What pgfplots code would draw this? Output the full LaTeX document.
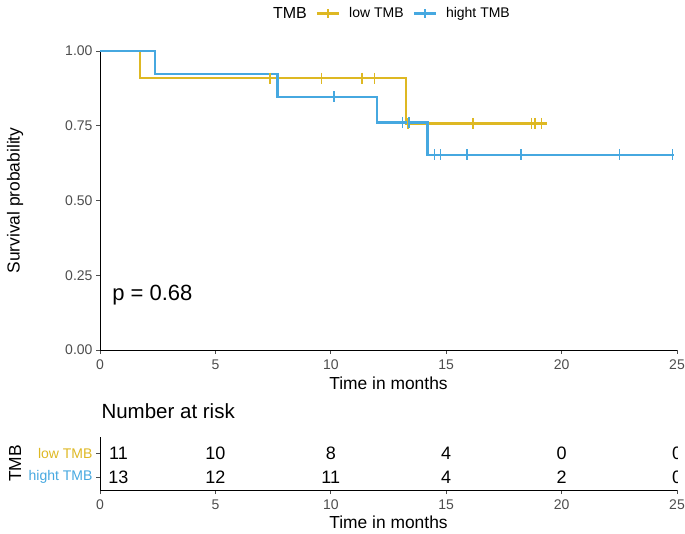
\documentclass[border=0pt]{standalone}
\usepackage{pgfplots}
\pgfplotsset{compat=1.18}
\usepackage{fontspec}
\setmainfont{Liberation Sans}
\definecolor{lowc}{RGB}{222,184,35}
\definecolor{highc}{RGB}{70,168,224}
\definecolor{tickgrey}{RGB}{77,77,77}
\pgfplotsset{
  commonstyle/.style={
    scale only axis,
    axis x line*=bottom, axis y line*=left,
    axis line style={black, line width=0.8pt},
    tick align=outside, major tick length=4pt,
    tick style={tickgrey, line width=0.8pt},
    /pgf/number format/assume math mode=true,
    tick label style={text=tickgrey, font=\fontsize{14}{16}\selectfont},
    label style={font=\fontsize{17.4}{20}\selectfont},
    xmin=0, xmax=25, xtick={0,5,10,15,20,25},
    xticklabel style={anchor=center, yshift=-11pt},
  }
}
\begin{document}
\begin{tikzpicture}
\path[use as bounding box] (0,0) rectangle (685pt,533pt);
\begin{axis}[commonstyle,
  at={(100pt,183pt)}, anchor=south west,
  width=577pt, height=299pt,
  ymin=0, ymax=1, ytick={0,0.25,0.5,0.75,1},
  yticklabel style={/pgf/number format/.cd, fixed, fixed zerofill, precision=2},
  clip=false,
  xlabel={Time in months},
  ylabel={Survival probability},
  xlabel style={at={(axis description cs:0.5,-0.111)}, anchor=center},
  ylabel style={at={(axis description cs:-0.147,0.5)}, anchor=center},
  legend columns=-1,
  legend style={at={(axis description cs:0.499,1.125)}, anchor=center, draw=none, fill=none,
    font=\fontsize{14}{16}\selectfont,
    /tikz/every odd column/.append style={column sep=7pt},
    /tikz/every even column/.append style={column sep=7pt}},
  legend image code/.code={\draw[mark repeat=2,mark phase=2,#1] plot coordinates {(0pt,0pt)(11pt,0pt)(22pt,0pt)};},
]
\addlegendimage{empty legend}
\addlegendentry{\fontsize{16}{18}\selectfont TMB}
\addlegendimage{lowc, line width=2.4pt, mark=|, mark size=4.5pt, mark options={solid, line width=1.6pt}}
\addlegendentry{low TMB}
\addlegendimage{highc, line width=2.4pt, mark=|, mark size=4.5pt, mark options={solid, line width=1.6pt}}
\addlegendentry{hight TMB}

\addplot[lowc, line width=2.6pt, const plot, forget plot] coordinates {
(0,1) (1.73,0.9091) (13.25,0.7576) (19.35,0.7576)};
\addplot[lowc, line width=1.6pt, only marks, mark=|, mark size=5.5pt, forget plot] coordinates {
(7.37,0.9091) (9.6,0.9091) (11.35,0.9091) (11.9,0.9091)
(13.35,0.7576) (16.15,0.7576) (18.7,0.7576) (18.85,0.7576) (19.13,0.7576)};
\addplot[highc, line width=2.6pt, const plot, forget plot] coordinates {
(0,1) (2.38,0.9231) (7.7,0.8462) (12.0,0.7615) (14.2,0.6527) (24.85,0.6527)};
\addplot[highc, line width=1.6pt, only marks, mark=|, mark size=5.5pt, forget plot] coordinates {
(10.15,0.8462) (13.1,0.7615) (13.4,0.7615) (14.5,0.6527) (14.75,0.6527)
(15.9,0.6527) (18.24,0.6527) (22.5,0.6527) (24.8,0.6527)};
\node[anchor=west, font=\fontsize{22}{25}\selectfont] at (axis cs:0.38,0.184) {p = 0.68};
\end{axis}

\begin{axis}[commonstyle,
  at={(100pt,43pt)}, anchor=south west,
  width=577pt, height=53pt,
  ymin=0.458, ymax=2.667, ytick={1,2},
  yticklabels={\textcolor{highc}{hight TMB},\textcolor{lowc}{low TMB}},
  xlabel={Time in months},
  ylabel={TMB},
  xlabel style={at={(axis description cs:0.5,-0.604)}, anchor=center},
  ylabel style={at={(axis description cs:-0.147,0.5)}, anchor=center},
  title={Number at risk},
  title style={at={(axis description cs:0,1)}, anchor=base west, yshift=12pt, xshift=-2pt, font=\fontsize{20.5}{23}\selectfont},
]
\end{axis}

\begin{scope}
\clip (0pt,0pt) rectangle (677.5pt,533pt);
\begin{axis}[
  scale only axis, hide axis,
  at={(100pt,43pt)}, anchor=south west,
  width=577pt, height=53pt,
  xmin=0, xmax=25, ymin=0.458, ymax=2.667, clip=false,
]
\addplot[draw=none, mark=none, nodes near coords, point meta=explicit symbolic,
  nodes near coords style={anchor=center, text=black, font=\fontsize{18}{20}\selectfont}]
table[meta=lab] {
x y lab
0.8 2 11
5 2 10
10 2 8
15 2 4
20 2 0
25 2 0
0.8 1 13
5 1 12
10 1 11
15 1 4
20 1 2
25 1 0
};
\end{axis}
\end{scope}
\end{tikzpicture}
\end{document}
